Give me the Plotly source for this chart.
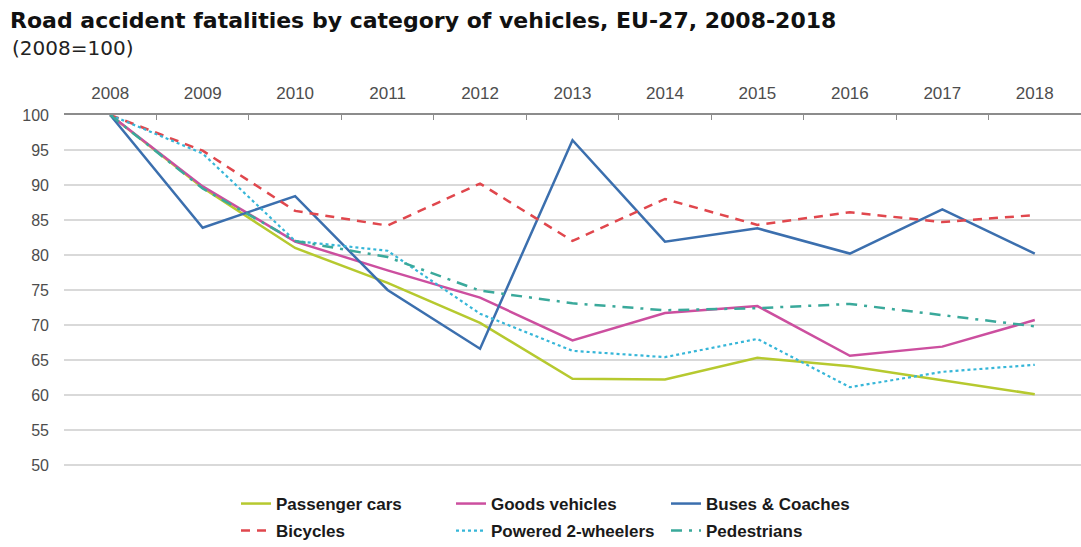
import plotly.graph_objects as go

years = ["2008", "2009", "2010", "2011", "2012", "2013", "2014", "2015", "2016", "2017", "2018"]

passenger_cars = [100, 89.6, 81.0, 76.0, 70.3, 62.3, 62.2, 65.3, 64.1, 62.1, 60.1]
goods_vehicles = [100, 89.8, 81.9, 77.8, 73.9, 67.8, 71.7, 72.7, 65.6, 66.9, 70.7]
buses_coaches = [100, 83.9, 88.4, 75.0, 66.6, 96.4, 81.9, 83.8, 80.2, 86.5, 80.2]
bicycles = [100, 94.9, 86.3, 84.2, 90.2, 82.0, 88.0, 84.3, 86.1, 84.7, 85.7]
powered_2w = [100, 94.5, 82.0, 80.6, 71.6, 66.3, 65.4, 68.0, 61.1, 63.3, 64.3]
pedestrians = [100, 89.5, 82.0, 79.7, 74.9, 73.1, 72.1, 72.4, 73.0, 71.4, 69.8]

y_ticks = [50, 55, 60, 65, 70, 75, 80, 85, 90, 95, 100]

series = [
    ("Passenger cars", passenger_cars, "#b6c92f", "solid", 2.5, "legend"),
    ("Goods vehicles", goods_vehicles, "#cc4f9f", "solid", 2.5, "legend"),
    ("Buses & Coaches", buses_coaches, "#3b6fae", "solid", 2.5, "legend"),
    ("Bicycles", bicycles, "#e0474d", "9px,7px", 2.5, "legend2"),
    ("Powered 2-wheelers", powered_2w, "#36b6d8", "dot", 2.2, "legend2"),
    ("Pedestrians", pedestrians, "#3aa99b", "11px,7px,3px,7px", 2.5, "legend2"),
]

fig = go.Figure()
for name, vals, color, dash, w, lg in series:
    fig.add_trace(go.Scatter(
        x=years, y=vals, name=name, mode="lines", legend=lg,
        line=dict(color=color, dash=dash, width=w),
    ))

legend_common = dict(
    orientation="h", xref="container", yref="container",
    x=236 / 1081, xanchor="left", yanchor="middle",
    entrywidth=170, entrywidthmode="pixels",
    font=dict(size=17, color="#1a1a1a", weight="bold"),
    tracegroupgap=0, bgcolor="rgba(0,0,0,0)",
)

fig.update_layout(
    width=1081, height=547,
    margin=dict(l=64, r=0, t=115, b=80),
    paper_bgcolor="white", plot_bgcolor="white",
    font=dict(family="Liberation Sans, Arial, sans-serif", size=13, color="#4d4d4d"),
    showlegend=True,
    legend=dict(legend_common, y=(547 - 504) / 547),
    legend2=dict(legend_common, y=(547 - 531) / 547),
    title=dict(
        text="<b>Road accident fatalities by category of vehicles, EU-27, 2008-2018</b>",
        x=10 / 1081, xanchor="left", xref="container",
        y=1 - 20 / 547, yanchor="middle", yref="container",
        font=dict(family="DejaVu Sans, sans-serif", size=22, color="#111111"),
    ),
)

fig.add_annotation(
    text="(2008=100)", xref="paper", yref="paper", x=-54 / 1017, y=1 + 67 / 352,
    xanchor="left", yanchor="middle", showarrow=False,
    font=dict(family="DejaVu Sans, sans-serif", size=20, color="#222222"),
)

fig.update_xaxes(
    type="category", side="top", range=[-0.5, 10.5],
    showgrid=False, showline=True, linecolor="#8c8c8c", linewidth=1.5,
    ticks="inside", tickson="boundaries", ticklen=5, tickcolor="#8c8c8c",
    tickfont=dict(size=17, color="#4d4d4d"), ticklabelstandoff=7,
)
fig.update_yaxes(
    range=[49.7, 100], tickvals=y_ticks, ticktext=[str(v) for v in y_ticks],
    showgrid=True, gridcolor="#d9d9d9", gridwidth=1.5,
    zeroline=False, showline=False, ticks="",
    tickfont=dict(size=16, color="#4d4d4d"), ticklabelstandoff=14,
)

fig.write_html("out.html")
